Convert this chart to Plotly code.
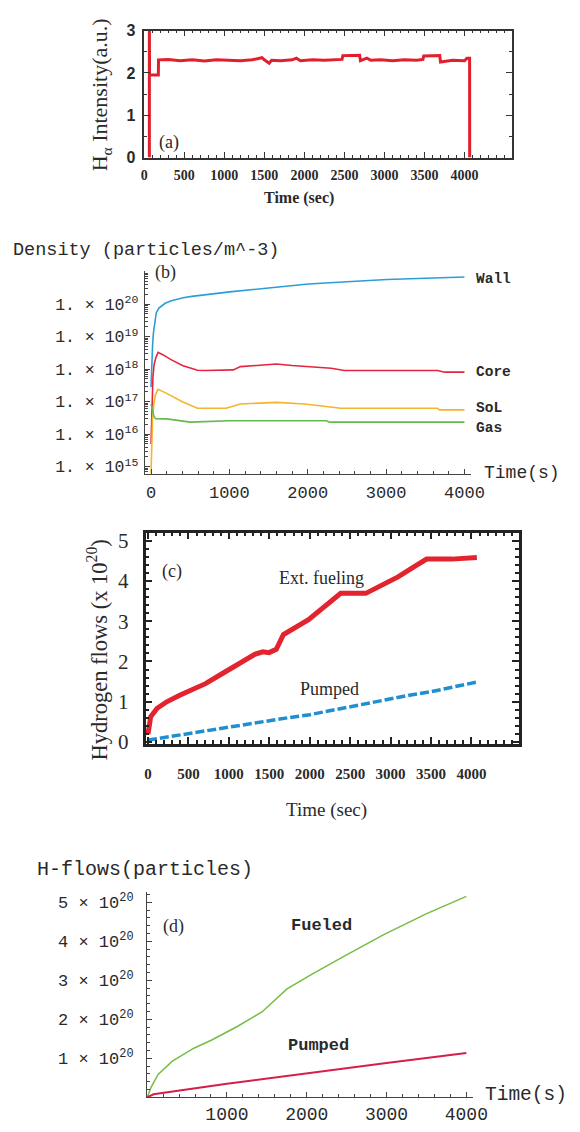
import plotly.graph_objects as go

# ---------------- data ----------------
# (a) H-alpha intensity
time_a = [64, 64, 66, 176, 178, 300, 450, 600, 750, 900, 1050, 1200, 1350, 1470, 1500,
          1560, 1590, 1700, 1850, 1900, 1950, 2100, 2250, 2400, 2470, 2480, 2690, 2700,
          2780, 2830, 2950, 3100, 3250, 3400, 3480, 3490, 3690, 3700, 3850, 4000, 4030,
          4063, 4064]
halpha = [0, 3.1, 1.95, 1.95, 2.31, 2.32, 2.29, 2.31, 2.28, 2.31, 2.30, 2.29, 2.31, 2.36, 2.31,
          2.23, 2.30, 2.29, 2.31, 2.35, 2.29, 2.31, 2.30, 2.31, 2.32, 2.41, 2.42, 2.29,
          2.35, 2.30, 2.31, 2.29, 2.31, 2.30, 2.32, 2.40, 2.41, 2.26, 2.30, 2.29, 2.35,
          2.35, 0]

# (b) densities
time_wall = [0, 5, 10, 20, 30, 45, 67, 100, 140, 181, 250, 320, 410, 520, 638, 800, 1004,
             1500, 2010, 2500, 3014, 3500, 4000]
wall = [2.8e17, 7.9e17, 2.0e18, 5.4e18, 1.26e19, 2.8e19, 5.4e19, 7.6e19, 9.3e19, 1.07e20,
        1.26e20, 1.41e20, 1.58e20, 1.74e20, 1.9e20, 2.1e20, 2.4e20, 3.16e20, 4.2e20,
        4.9e20, 5.75e20, 6.3e20, 6.9e20]
time_core = [0, 8, 15, 25, 40, 60, 90, 150, 250, 400, 593, 700, 1050, 1141, 1350, 1599,
             1800, 2056, 2300, 2468, 3000, 3656, 3748, 4000]
core = [5e15, 2e16, 2e17, 6.3e17, 1.4e18, 2.2e18, 3.3e18, 2.8e18, 2.0e18, 1.3e18, 9.3e17,
        9.1e17, 9.5e17, 1.2e18, 1.3e18, 1.45e18, 1.3e18, 1.2e18, 1.07e18, 9.1e17, 9.1e17,
        9.1e17, 8.1e17, 8.1e17]
time_sol = [0, 10, 20, 35, 55, 90, 200, 400, 593, 958, 1141, 1599, 1963, 2420, 3656, 3680, 4000]
sol = [6.3e14, 4e15, 3.2e16, 8e16, 1.6e17, 2.4e17, 1.8e17, 1.0e17, 6.3e16, 6.3e16, 8.5e16,
       9.5e16, 8.5e16, 6.3e16, 6.3e16, 5.6e16, 5.6e16]
time_gas = [0, 15, 37, 58, 200, 501, 1004, 2237, 2280, 4000]
gas = [8.3e16, 6.3e16, 3.5e16, 3.0e16, 2.95e16, 2.35e16, 2.6e16, 2.6e16, 2.35e16, 2.35e16]
density_ticks = [1e15, 1e16, 1e17, 1e18, 1e19, 1e20]
density_ticktext = ["1. × 10<sup>15</sup>", "1. × 10<sup>16</sup>", "1. × 10<sup>17</sup>",
                    "1. × 10<sup>18</sup>", "1. × 10<sup>19</sup>", "1. × 10<sup>20</sup>"]

# (c) hydrogen flows (x 1e20)
time_ext = [0, 33, 113, 232, 392, 551, 711, 910, 1098, 1320, 1420, 1497, 1586, 1675, 1985,
            2206, 2383, 2693, 2871, 3092, 3313, 3446, 3757, 4067]
ext_fueling = [0.2, 0.63, 0.84, 1.0, 1.16, 1.29, 1.45, 1.69, 1.9, 2.18, 2.24, 2.22, 2.3, 2.67,
               3.04, 3.4, 3.69, 3.69, 3.87, 4.1, 4.38, 4.54, 4.54, 4.58]
time_pump_c = [0, 250, 500, 750, 1000, 1250, 1500, 1750, 2000, 2250, 2500, 2750, 3000, 3250,
               3500, 3750, 4067]
pumped_c = [0.05, 0.13, 0.21, 0.30, 0.39, 0.47, 0.55, 0.61, 0.68, 0.78, 0.87, 0.98, 1.07,
            1.17, 1.25, 1.35, 1.49]

# (d) H-flows (particles)
time_fuel = [0, 47, 137, 316, 585, 810, 1124, 1439, 1753, 2067, 2471, 2965, 3503, 4000]
fueled = [0, 0.25e20, 0.59e20, 0.93e20, 1.26e20, 1.47e20, 1.81e20, 2.19e20, 2.78e20,
          3.16e20, 3.62e20, 4.17e20, 4.71e20, 5.15e20]
time_pump_d = [0, 80, 1000, 2000, 3000, 4000]
pumped_d = [0, 0.08e20, 0.35e20, 0.62e20, 0.88e20, 1.14e20]
flow_ticks = [1e20, 2e20, 3e20, 4e20, 5e20]
flow_ticktext = ["1 × 10<sup>20</sup>", "2 × 10<sup>20</sup>", "3 × 10<sup>20</sup>",
                 "4 × 10<sup>20</sup>", "5 × 10<sup>20</sup>"]

# ---------------- figure ----------------
W, H = 580, 1132
def fx(p):
    return p / W
def fy(p):
    return 1 - p / H

SERIF = "Liberation Serif"
SANS = "Liberation Sans"
MONO = "Liberation Mono"
INK = "#2a2a2a"

fig = go.Figure()
fig.add_trace(go.Scatter(x=time_a, y=halpha, mode="lines", line=dict(color="#e2202d", width=3),
                         xaxis="x", yaxis="y"))
for t, v, c in [(time_wall, wall, "#2b9ed8"), (time_core, core, "#e52540"),
                (time_sol, sol, "#f4b52c"), (time_gas, gas, "#64b94c")]:
    fig.add_trace(go.Scatter(x=t, y=v, mode="lines", line=dict(color=c, width=1.6),
                             xaxis="x2", yaxis="y2"))
fig.add_trace(go.Scatter(x=time_ext, y=ext_fueling, mode="lines",
                         line=dict(color="#e3232e", width=5), xaxis="x3", yaxis="y3"))
fig.add_trace(go.Scatter(x=time_pump_c, y=pumped_c, mode="lines",
                         line=dict(color="#1f8fd2", width=3.5, dash="9px,3px"),
                         xaxis="x3", yaxis="y3"))
fig.add_trace(go.Scatter(x=time_fuel, y=fueled, mode="lines", line=dict(color="#74bd45", width=1.5),
                         xaxis="x4", yaxis="y4"))
fig.add_trace(go.Scatter(x=time_pump_d, y=pumped_d, mode="lines", line=dict(color="#d61f48", width=2),
                         xaxis="x4", yaxis="y4"))

box_common = dict(showline=True, mirror="allticks", ticks="inside", showgrid=False, zeroline=False)
open_common = dict(showline=True, mirror=False, ticks="inside", showgrid=False, zeroline=False)

log_minor = [float(m) * 10.0 ** e for e in range(14, 21) for m in range(2, 10)]

fig.update_layout(
    width=W, height=H, margin=dict(l=0, r=0, t=0, b=0),
    paper_bgcolor="white", plot_bgcolor="white", showlegend=False,
    # (a)
    xaxis=dict(domain=[fx(145), fx(525)], range=[0, 4590], anchor="y",
               tickvals=[0, 500, 1000, 1500, 2000, 2500, 3000, 3500, 4000],
               ticklen=6, tickwidth=1.3, linewidth=1.5, linecolor="#333", tickcolor="#333",
               minor=dict(dtick=100, tick0=0, ticklen=3, ticks="inside", tickcolor="#333"),
               tickfont=dict(family=SERIF, size=14, color=INK, weight="bold"),
               ticklabelstandoff=4, **box_common),
    yaxis=dict(domain=[fy(152), fy(23)], range=[0, 3], anchor="x",
               tickvals=[0, 1, 2, 3], ticklen=6, tickwidth=1.3, linewidth=1.5,
               linecolor="#333", tickcolor="#333",
               minor=dict(dtick=0.5, ticklen=3, ticks="inside", tickcolor="#333"),
               tickfont=dict(family=SANS, size=16, color=INK, weight="bold"),
               ticklabelstandoff=4, **box_common),
    # (b)
    xaxis2=dict(domain=[fx(145.6), fx(483)], range=[-79, 4086], anchor="y2",
                tickvals=[0, 1000, 2000, 3000, 4000], ticklen=5, tickwidth=1,
                linewidth=1.4, linecolor="#444", tickcolor="#444",
                minor=dict(dtick=200, tick0=0, ticklen=3, ticks="inside", tickcolor="#444"),
                tickfont=dict(family=MONO, size=17, color=INK), ticklabelstandoff=2,
                **open_common),
    yaxis2=dict(domain=[fy(474), fy(267)], type="log", range=[14.76, 21.03], anchor="x2",
                tickvals=density_ticks, ticktext=density_ticktext, ticklen=5, tickwidth=1,
                linewidth=1.4, linecolor="#444", tickcolor="#444",
                minor=dict(tickvals=log_minor, ticklen=3, ticks="inside", tickcolor="#444"),
                tickfont=dict(family=MONO, size=16.5, color=INK), ticklabelstandoff=2,
                **open_common),
    # (c)
    xaxis3=dict(domain=[fx(146.3), fx(532.6)], range=[-31, 4590], anchor="y3",
                tickvals=[0, 500, 1000, 1500, 2000, 2500, 3000, 3500, 4000],
                ticklen=7, tickwidth=1.5, linewidth=2.5, linecolor="#222", tickcolor="#222",
                minor=dict(dtick=100, tick0=0, ticklen=4, ticks="inside", tickcolor="#222"),
                tickfont=dict(family=SERIF, size=15, color=INK, weight="bold"),
                ticklabelstandoff=14, **box_common),
    yaxis3=dict(domain=[fy(748), fy(533)], range=[-0.05, 5.2], anchor="x3",
                tickvals=[0, 1, 2, 3, 4, 5], ticklen=7, tickwidth=1.5, linewidth=2.5,
                linecolor="#222", tickcolor="#222",
                minor=dict(dtick=0.2, tick0=0, ticklen=4, ticks="inside", tickcolor="#222"),
                tickfont=dict(family=SERIF, size=21, color=INK), ticklabelstandoff=10,
                **box_common),
    # (d)
    xaxis4=dict(domain=[fx(148), fx(485)], range=[0, 4085], anchor="y4",
                tickvals=[1000, 2000, 3000, 4000], ticklen=5, tickwidth=1,
                linewidth=1.4, linecolor="#444", tickcolor="#444",
                minor=dict(dtick=200, tick0=0, ticklen=3, ticks="inside", tickcolor="#444"),
                tickfont=dict(family=MONO, size=18, color=INK), ticklabelstandoff=0,
                **open_common),
    yaxis4=dict(domain=[fy(1107), fy(898)], range=[0, 5.27e20], anchor="x4",
                tickvals=flow_ticks, ticktext=flow_ticktext, ticklen=5, tickwidth=1,
                linewidth=1.4, linecolor="#444", tickcolor="#444",
                minor=dict(dtick=0.2e20, tick0=0, ticklen=3, ticks="inside", tickcolor="#444"),
                tickfont=dict(family=MONO, size=17, color=INK), ticklabelstandoff=9,
                **open_common),
)

def note(text, x, y, family, size, xanchor="center", yanchor="middle", angle=0, weight="normal"):
    fig.add_annotation(text=text, x=fx(x), y=fy(y), xref="paper", yref="paper",
                       xanchor=xanchor, yanchor=yanchor, showarrow=False, textangle=angle,
                       borderpad=0,
                       font=dict(family=family, size=size, color=INK, weight=weight))

# (a)
note("H<sub>α</sub> Intensity(a.u.)", 100, 88, SERIF, 22, angle=-90)
note("Time (sec)", 305, 193, SERIF, 16, weight="bold")
note("(a)", 159, 137, SERIF, 18, xanchor="left")
# (b)
note("Density (particles/m^-3)", 8, 246, MONO, 18.5, xanchor="left")
note("Time(s)", 495, 473, MONO, 18, xanchor="left")
note("(b)", 155, 269, SERIF, 18, xanchor="left")
note("Wall", 487, 275, MONO, 14.5, xanchor="left", weight="bold")
note("Core", 487, 370, MONO, 14.5, xanchor="left", weight="bold")
note("SoL", 487, 406, MONO, 14.5, xanchor="left", weight="bold")
note("Gas", 487, 427, MONO, 14.5, xanchor="left", weight="bold")
# (c)
note("Hydrogen flows (x 10<sup>20</sup>)", 96, 652, SERIF, 22.5, angle=-90)
note("Time (sec)", 333, 815, SERIF, 19)
note("(c)", 174, 573, SERIF, 18)
note("Ext. fueling", 328, 579, SERIF, 18)
note("Pumped", 337, 692, SERIF, 18)
# (d)
note("H-flows(particles)", 33, 875, MONO, 20, xanchor="left")
note("Time(s)", 496, 1105, MONO, 19.5, xanchor="left")
note("(d)", 163, 933, SERIF, 18, xanchor="left")
note("Fueled", 328, 932, MONO, 17, weight="bold")
note("Pumped", 325, 1054, MONO, 17, weight="bold")

fig.write_html("out.html", config={"displayModeBar": False},
               post_script="document.body.style.margin='0';")
